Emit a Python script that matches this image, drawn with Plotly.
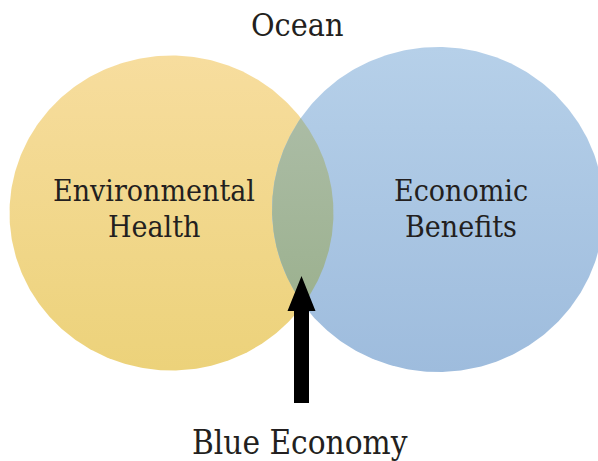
import numpy as np
import plotly.graph_objects as go

W, H = 598, 461

# Venn circles: name, center x, center y, radius x, radius y, top colour, bottom colour
circle_names = ["Environmental Health", "Economic Benefits"]
circle_cx = [171.5, 438.0]
circle_cy = [213.0, 209.5]
circle_rx = [162.0, 166.0]
circle_ry = [157.5, 162.5]
circle_top_colors = ["#F7DD9E", "#B6D0E9"]
circle_bottom_colors = ["#ECD27A", "#9EBCDD"]
overlap_colors = ["#ABBCA5", "#9CB18F"]

# Labels (one entry per line)
label_lines = [["Environmental", "Health"], ["Economic", "Benefits"]]
label_x = [154, 461]
label_line_y = [190, 226]
title_text = "Ocean"
arrow_label = "Blue Economy"

# Arrow geometry: tail y, tip y, x, shaft width, head width, head length
arrow_x = 301.5
arrow_tail_y = 403.0
arrow_tip_y = 276.0
arrow_shaft_w = 15.0
arrow_head_w = 28.0
arrow_head_len = 35.0

FONT = "DejaVu Serif Condensed, Liberation Serif, serif"
TXT = "#231F20"

fig = go.Figure()

t = np.linspace(0, 2 * np.pi, 400)
for i in range(2):
    xs = circle_cx[i] + circle_rx[i] * np.cos(t)
    ys = circle_cy[i] + circle_ry[i] * np.sin(t)
    fig.add_trace(go.Scatter(
        x=xs, y=ys, mode="lines", fill="toself", line=dict(width=0),
        fillgradient=dict(type="vertical",
                          start=circle_cy[i] - circle_ry[i],
                          stop=circle_cy[i] + circle_ry[i],
                          colorscale=[[0, circle_top_colors[i]], [1, circle_bottom_colors[i]]]),
        hoverinfo="skip", name=circle_names[i]))


def inside(x, y, j):
    return ((x - circle_cx[j]) / circle_rx[j]) ** 2 + ((y - circle_cy[j]) / circle_ry[j]) ** 2 <= 1


ta = np.linspace(-np.pi / 2, np.pi / 2, 800)
ax_ = circle_cx[0] + circle_rx[0] * np.cos(ta)
ay_ = circle_cy[0] + circle_ry[0] * np.sin(ta)
ma = inside(ax_, ay_, 1)
tb = np.linspace(np.pi / 2, 3 * np.pi / 2, 800)
bx_ = circle_cx[1] + circle_rx[1] * np.cos(tb)
by_ = circle_cy[1] + circle_ry[1] * np.sin(tb)
mb = inside(bx_, by_, 0)
lx = np.concatenate([ax_[ma], bx_[mb]])
ly = np.concatenate([ay_[ma], by_[mb]])
fig.add_trace(go.Scatter(
    x=lx, y=ly, mode="lines", fill="toself", line=dict(width=0),
    fillgradient=dict(type="vertical", start=float(ly.min()), stop=float(ly.max()),
                      colorscale=[[0, overlap_colors[0]], [1, overlap_colors[1]]]),
    hoverinfo="skip", name="overlap"))

# Arrow polygon
hs = arrow_shaft_w / 2
hh = arrow_head_w / 2
base_y = arrow_tip_y + arrow_head_len
px = [arrow_x - hs, arrow_x - hs, arrow_x - hh, arrow_x, arrow_x + hh, arrow_x + hs, arrow_x + hs, arrow_x - hs]
py = [arrow_tail_y, base_y, base_y, arrow_tip_y, base_y, base_y, arrow_tail_y, arrow_tail_y]
fig.add_trace(go.Scatter(x=px, y=py, mode="lines", fill="toself", fillcolor="#000000",
                         line=dict(width=0, color="#000000"), hoverinfo="skip"))

annotations = [
    dict(x=297, y=25, text=title_text, font=dict(size=32)),
    dict(x=300, y=442, text=arrow_label, font=dict(size=33)),
]
for i, lines in enumerate(label_lines):
    for j, line in enumerate(lines):
        annotations.append(dict(x=label_x[i], y=label_line_y[j], text=line, font=dict(size=30)))
for a in annotations:
    a.update(xref="x", yref="y", showarrow=False, xanchor="center", yanchor="middle")
    a["font"].update(family=FONT, color=TXT)

fig.update_layout(
    width=W, height=H, margin=dict(l=0, r=0, t=0, b=0),
    paper_bgcolor="white", plot_bgcolor="white", showlegend=False,
    xaxis=dict(range=[0, W], visible=False, fixedrange=True),
    yaxis=dict(range=[H, 0], visible=False, fixedrange=True),
    annotations=annotations,
)

fig.write_html("out.html", config={"displayModeBar": False},
               post_script="document.body.style.margin='0';document.body.style.padding='0';document.body.style.overflow='hidden';")
